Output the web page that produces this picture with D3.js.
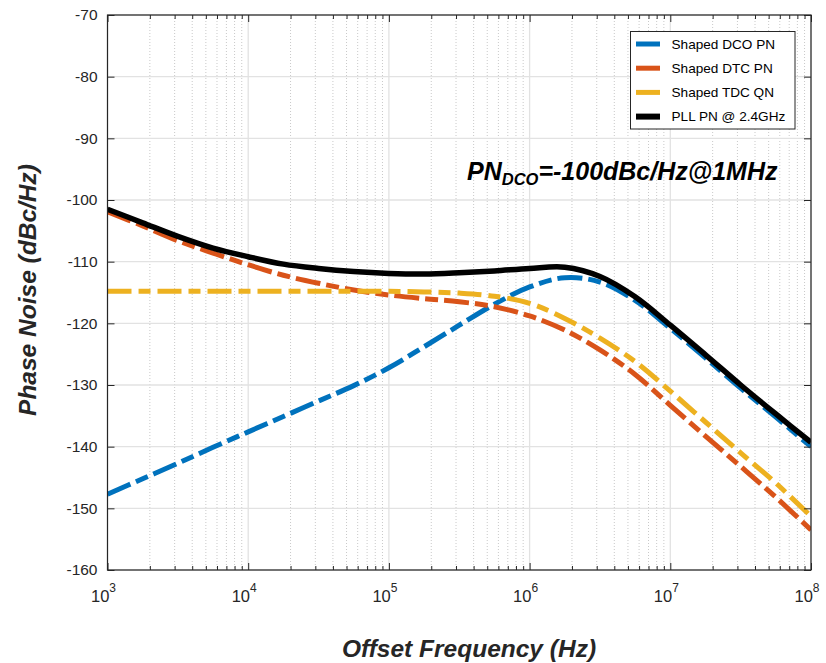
<!DOCTYPE html>
<html>
<head>
<meta charset="utf-8">
<script src="https://cdn.jsdelivr.net/npm/d3@7"></script>
<style>
html,body{margin:0;padding:0;background:#fff;}
svg{display:block;font-family:"Liberation Sans",Arial,sans-serif;}
</style>
</head>
<body>
<svg id="chart" width="826" height="663"></svg>
<script>
// ---- data ----
const freqs = [1e3, 1.778e3, 3.162e3, 5.623e3, 1e4, 1.778e4, 3.162e4, 5.623e4, 1e5, 1.778e5, 3.162e5, 5.623e5,
               1e6, 1.778e6, 3.162e6, 5.623e6, 1e7, 1.778e7, 3.162e7, 5.623e7, 1e8];
const dcoPN = [-147.7, -145.2, -142.7, -140.1, -137.6, -135.1, -132.6, -130.1, -127.2, -123.8, -120.3, -116.9,
               -114.1, -112.6, -113.3, -116.3, -120.8, -125.6, -130.5, -135.2, -140.0];
const dtcPN = [-101.9, -104.2, -106.6, -108.6, -110.5, -112.2, -113.5, -114.6, -115.4, -116.0, -116.5, -117.3,
               -118.8, -121.1, -124.3, -128.3, -133.3, -138.3, -143.2, -148.2, -153.5];
const tdcQN = [-114.8, -114.8, -114.8, -114.8, -114.8, -114.8, -114.8, -114.8, -114.8, -114.9, -115.1, -115.6,
               -116.75, -119.2, -122.4, -126.2, -131.0, -136.0, -141.0, -145.9, -151.3];
const pllPN = [-101.5, -103.7, -105.9, -107.8, -109.2, -110.4, -111.1, -111.6, -111.9, -112.0, -111.8, -111.5,
               -111.1, -110.9, -112.4, -115.7, -120.3, -125.1, -130.0, -134.7, -139.3];
const seriesNames = ["Shaped DCO PN", "Shaped DTC PN", "Shaped TDC QN", "PLL PN @ 2.4GHz"];
const seriesColors = ["#0072BD", "#D95319", "#EDB120", "#000000"];
const yTicks = [-70, -80, -90, -100, -110, -120, -130, -140, -150, -160];
const xTickExps = [3, 4, 5, 6, 7, 8];
const yLabel = "Phase Noise (dBc/Hz)";
const xLabel = "Offset Frequency (Hz)";
const noteMain = "PN", noteSub = "DCO", noteRest = "=-100dBc/Hz@1MHz";

// ---- layout ----
const L = 107.5, R = 811, T = 15, B = 570;
const svg = d3.select("#chart");
const x = d3.scaleLog().domain([1e3, 1e8]).range([L, R]);
const y = d3.scaleLinear().domain([-160, -70]).range([B, T]);

// grid
const g = svg.append("g");
const minor = [];
for (let e = 3; e < 8; e++) for (let m = 2; m <= 9; m++) minor.push(m * Math.pow(10, e));
g.selectAll(".mg").data(minor).enter().append("line")
  .attr("x1", d => x(d)).attr("x2", d => x(d)).attr("y1", T).attr("y2", B)
  .attr("stroke", "#c9c9c9").attr("stroke-width", 1).attr("stroke-dasharray", "1,2");
g.selectAll(".xg").data(xTickExps).enter().append("line")
  .attr("x1", d => x(Math.pow(10, d))).attr("x2", d => x(Math.pow(10, d))).attr("y1", T).attr("y2", B)
  .attr("stroke", "#e2e2e2").attr("stroke-width", 1.3);
g.selectAll(".yg").data(yTicks).enter().append("line")
  .attr("x1", L).attr("x2", R).attr("y1", d => y(d)).attr("y2", d => y(d))
  .attr("stroke", "#e2e2e2").attr("stroke-width", 1.3);

// curves
const line = d3.line().x((d, i) => x(freqs[i])).y(d => y(d)).curve(d3.curveCatmullRom.alpha(0.5));
const allSeries = [dcoPN, dtcPN, tdcQN, pllPN];
const dashes = ["25,6,13,6", "25,6,13,6", "24,7,12,7", null];
const widths = [5, 5, 5, 5.5];
svg.append("clipPath").attr("id", "clp").append("rect")
  .attr("x", L).attr("y", T).attr("width", R - L).attr("height", B - T);
const cg = svg.append("g").attr("clip-path", "url(#clp)");
allSeries.forEach((s, i) => {
  cg.append("path").attr("d", line(s)).attr("fill", "none")
    .attr("stroke", seriesColors[i]).attr("stroke-width", widths[i])
    .attr("stroke-dasharray", dashes[i]).attr("stroke-linejoin", "round");
});

// axes
const axCol = "#262626";
const yAxL = d3.axisLeft(y).tickValues(yTicks).tickSize(-7).tickPadding(10).tickFormat(d => String(d));
const yAxR = d3.axisRight(y).tickValues(yTicks).tickSize(-7).tickFormat("");
const xAll = minor.concat(xTickExps.map(e => Math.pow(10, e)));
const xAxB = d3.axisBottom(x).tickValues(xAll).tickSize(-4).tickFormat("");
const xAxT = d3.axisTop(x).tickValues(xAll).tickSize(-4).tickFormat("");
function style(sel) {
  sel.select(".domain").remove();
  sel.selectAll(".tick line").attr("stroke", axCol);
  sel.selectAll(".tick text").attr("fill", "#262626").attr("font-size", 15.5)
    .attr("font-family", "'Liberation Sans',Arial,sans-serif");
}
svg.append("g").attr("transform", `translate(${L},0)`).call(yAxL).call(style);
svg.append("g").attr("transform", `translate(${R},0)`).call(yAxR).call(style);
const gb = svg.append("g").attr("transform", `translate(0,${B})`).call(xAxB).call(style);
const gt = svg.append("g").attr("transform", `translate(0,${T})`).call(xAxT).call(style);
const isMajor = d => xTickExps.some(e => Math.abs(Math.pow(10, e) - d) < 1e-6);
gb.selectAll(".tick").filter(isMajor).select("line").attr("y2", -7);
gt.selectAll(".tick").filter(isMajor).select("line").attr("y2", 7);
svg.append("rect").attr("x", L).attr("y", T).attr("width", R - L).attr("height", B - T)
  .attr("fill", "none").attr("stroke", axCol).attr("stroke-width", 1.2);

// x tick labels with superscripts
const xl = svg.append("g");
xTickExps.forEach(e => {
  const t = xl.append("text").attr("x", x(Math.pow(10, e)) - 4).attr("y", 602)
    .attr("text-anchor", "middle").attr("font-size", 16.5).attr("fill", "#262626");
  t.append("tspan").text("10");
  t.append("tspan").attr("dy", -10).attr("font-size", 12).text(String(e));
});

// axis titles
svg.append("text").attr("transform", "translate(36,290) rotate(-90)").attr("text-anchor", "middle")
  .attr("font-size", 24.5).attr("font-weight", "bold").attr("font-style", "italic").attr("fill", "#262626")
  .text(yLabel);
svg.append("text").attr("x", 469).attr("y", 657).attr("text-anchor", "middle")
  .attr("font-size", 24.5).attr("font-weight", "bold").attr("font-style", "italic").attr("fill", "#262626")
  .text(xLabel);

// annotation
const note = svg.append("text").attr("x", 467).attr("y", 180).attr("font-size", 25)
  .attr("font-weight", "bold").attr("font-style", "italic").attr("fill", "#000");
note.append("tspan").text(noteMain);
note.append("tspan").attr("dy", 5).attr("font-size", 16.5).text(noteSub);
note.append("tspan").attr("dy", -5).text(noteRest);

// legend
const lg = svg.append("g");
lg.append("rect").attr("x", 630.5).attr("y", 31.5).attr("width", 164.5).attr("height", 97.5)
  .attr("fill", "#fff").attr("stroke", axCol).attr("stroke-width", 1);
seriesNames.forEach((n, i) => {
  const yy = 44 + i * 24.2;
  lg.append("line").attr("x1", 636).attr("x2", 660).attr("y1", yy).attr("y2", yy)
    .attr("stroke", seriesColors[i]).attr("stroke-width", i === 3 ? 6 : 5);
  lg.append("text").attr("x", 671.5).attr("y", yy + 4.8).attr("font-size", 13.6).attr("fill", "#000").text(n);
});
</script>
</body>
</html>
